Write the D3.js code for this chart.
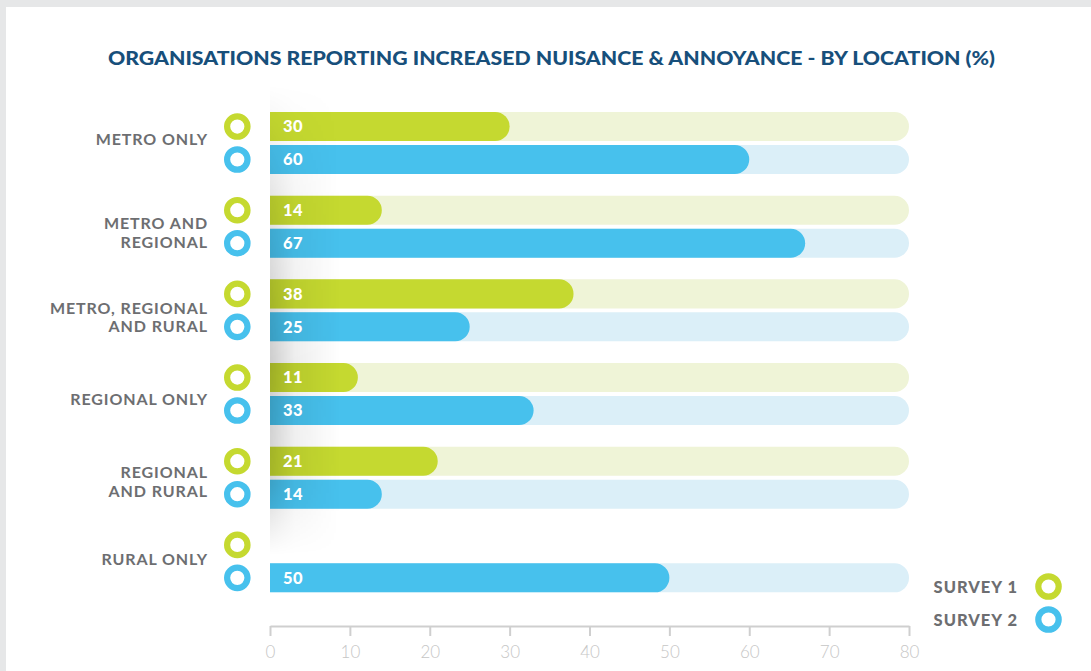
<!DOCTYPE html>
<html>
<head>
<meta charset="utf-8">
<script src="https://cdn.jsdelivr.net/npm/d3@7/dist/d3.min.js"></script>
<style>
  html, body { margin: 0; padding: 0; background: #e6e7e8; }
  svg { display: block; }
  text { font-family: "Lato", "Open Sans", sans-serif; }
</style>
</head>
<body>
<svg id="chart" width="1091" height="671"></svg>
<script>
// Location groups, top to bottom (each entry is one or two text lines)
const categories = ["Metro only", "Metro and regional", "Metro, regional and rural", "Regional only", "Regional and rural", "Rural only"];
const categoryLines = [["METRO ONLY"], ["METRO AND", "REGIONAL"], ["METRO, REGIONAL", "AND RURAL"], ["REGIONAL ONLY"], ["REGIONAL", "AND RURAL"], ["RURAL ONLY"]];
const seriesNames = ["SURVEY 1", "SURVEY 2"];
// Percent of organisations reporting increased nuisance & annoyance (null = no response)
const survey1 = [30, 14, 38, 11, 21, null];
const survey2 = [60, 67, 25, 33, 14, 50];
const xTicks = [0, 10, 20, 30, 40, 50, 60, 70, 80];

const colors = ["#c5d930", "#47c1ed"];
const trackColors = ["#eff4d7", "#dbeff8"];

const svg = d3.select("#chart");
const W = 1091, H = 671;

// white card
svg.append("rect").attr("x", 6).attr("y", 7).attr("width", W - 6).attr("height", H - 7).attr("fill", "#ffffff");

const defs = svg.append("defs");

// title
svg.append("text")
  .attr("x", 551.5).attr("y", 65)
  .attr("text-anchor", "middle")
  .attr("fill", "#174f7b")
  .attr("font-size", 19).attr("font-weight", 900)
  .attr("textLength", 887).attr("lengthAdjust", "spacingAndGlyphs")
  .text("ORGANISATIONS REPORTING INCREASED NUISANCE & ANNOYANCE - BY LOCATION (%)");

const x = d3.scaleLinear().domain([0, 80]).range([270, 909]);
const y = d3.scaleBand().domain(categories).range([101.2, 603.2]).padding(0);
const sub = d3.scaleBand().domain(seriesNames).range([-31, 31]).paddingInner(0.12);
const bh = sub.bandwidth();

const rows = [];
categories.forEach((c, i) => {
  [survey1[i], survey2[i]].forEach((v, s) => {
    rows.push({ cat: c, idx: i, s, name: seriesNames[s], value: v });
  });
});

// bar with a square left end and rounded right end
function barPath(x0, x1, yTop, h) {
  const rr = Math.min(h / 2, (x1 - x0));
  const p = d3.path();
  p.moveTo(x0, yTop);
  p.lineTo(x1 - rr, yTop);
  p.arc(x1 - rr, yTop + h / 2, h / 2, -Math.PI / 2, Math.PI / 2);
  p.lineTo(x0, yTop + h);
  p.closePath();
  return p.toString();
}

const rowTop = d => y(d.cat) + y.bandwidth() / 2 + sub(d.name);

// background tracks (full 0–80 range) only for rows with a value
const drawn = rows.filter(d => d.value !== null);
svg.append("g").selectAll("path").data(drawn).join("path")
  .attr("d", d => barPath(x(0), x(80), rowTop(d), bh))
  .attr("fill", d => trackColors[d.s]);

// value bars
svg.append("g").selectAll("path").data(drawn).join("path")
  .attr("d", d => barPath(x(0), x(d.value), rowTop(d), bh))
  .attr("fill", d => colors[d.s]);

// soft shadow along the left edge of the plot
const hGrad = defs.append("linearGradient").attr("id", "shadeH").attr("x1", 0).attr("x2", 1).attr("y1", 0).attr("y2", 0);
hGrad.append("stop").attr("offset", 0).attr("stop-color", "#000").attr("stop-opacity", 0.2);
hGrad.append("stop").attr("offset", 0.35).attr("stop-color", "#000").attr("stop-opacity", 0.07);
hGrad.append("stop").attr("offset", 1).attr("stop-color", "#000").attr("stop-opacity", 0);
const vGrad = defs.append("linearGradient").attr("id", "shadeV").attr("x1", 0).attr("x2", 0).attr("y1", 0).attr("y2", 1);
vGrad.append("stop").attr("offset", 0).attr("stop-color", "#fff").attr("stop-opacity", 0);
vGrad.append("stop").attr("offset", 0.25).attr("stop-color", "#fff").attr("stop-opacity", 0.55);
vGrad.append("stop").attr("offset", 0.6).attr("stop-color", "#fff").attr("stop-opacity", 1);
vGrad.append("stop").attr("offset", 0.85).attr("stop-color", "#fff").attr("stop-opacity", 0.8);
vGrad.append("stop").attr("offset", 1).attr("stop-color", "#fff").attr("stop-opacity", 0);
const mask = defs.append("mask").attr("id", "shadeMask").attr("maskUnits", "userSpaceOnUse");
mask.append("rect").attr("x", 270).attr("y", 85).attr("width", 70).attr("height", 470).attr("fill", "url(#shadeV)");
svg.append("rect")
  .attr("x", 270).attr("y", 85).attr("width", 70).attr("height", 470)
  .attr("fill", "url(#shadeH)")
  .attr("mask", "url(#shadeMask)");

// value labels
svg.append("g").selectAll("text").data(drawn).join("text")
  .attr("x", x(0) + 13)
  .attr("y", d => rowTop(d) + bh / 2 + 5.8)
  .attr("fill", "#ffffff")
  .attr("font-size", 16.5).attr("font-weight", 900)
  .attr("letter-spacing", 0.5)
  .text(d => d.value);

// ring markers next to every row
svg.append("g").selectAll("circle").data(rows).join("circle")
  .attr("cx", 237.3)
  .attr("cy", d => rowTop(d) + bh / 2)
  .attr("r", 10.2)
  .attr("fill", "#ffffff")
  .attr("stroke", d => colors[d.s])
  .attr("stroke-width", 6.2);

// category labels, vertically nudged per group
const labelNudge = [-4, 6.5, 7, 5, 4.5, -2];
const catG = svg.append("g");
categories.forEach((c, i) => {
  const lines = categoryLines[i];
  const cy = y(c) + y.bandwidth() / 2 + labelNudge[i];
  const lh = 18.5;
  const t = catG.append("text")
    .attr("text-anchor", "end")
    .attr("fill", "#6d6e71")
    .attr("font-size", 16).attr("font-weight", 700)
    .attr("letter-spacing", 0.9);
  lines.forEach((ln, k) => {
    t.append("tspan")
      .attr("x", 208)
      .attr("y", cy + 5.5 + (k - (lines.length - 1) / 2) * lh)
      .text(ln);
  });
});

// x axis
const axis = svg.append("g").attr("transform", "translate(0,626)")
  .call(d3.axisBottom(x).tickValues(xTicks).tickSize(10).tickSizeOuter(0).tickPadding(10));
axis.select(".domain").attr("stroke", "#cfcfcf").attr("stroke-width", 2);
axis.selectAll(".tick line").attr("stroke", "#cfcfcf").attr("stroke-width", 2);
axis.selectAll(".tick text")
  .attr("fill", "#c6c6c6").attr("font-size", 17).attr("font-weight", 300)
  .attr("font-family", "Lato, sans-serif");

// legend
const legend = svg.append("g");
seriesNames.forEach((n, s) => {
  const ly = 586.5 + s * 33;
  legend.append("text")
    .attr("x", 1018).attr("y", ly + 6)
    .attr("text-anchor", "end")
    .attr("fill", "#6d6e71")
    .attr("font-size", 16.5).attr("font-weight", 900)
    .attr("letter-spacing", 1.0)
    .text(n);
  legend.append("circle")
    .attr("cx", 1048.5).attr("cy", ly)
    .attr("r", 10.2)
    .attr("fill", "#ffffff")
    .attr("stroke", colors[s])
    .attr("stroke-width", 6.2);
});
</script>
</body>
</html>
